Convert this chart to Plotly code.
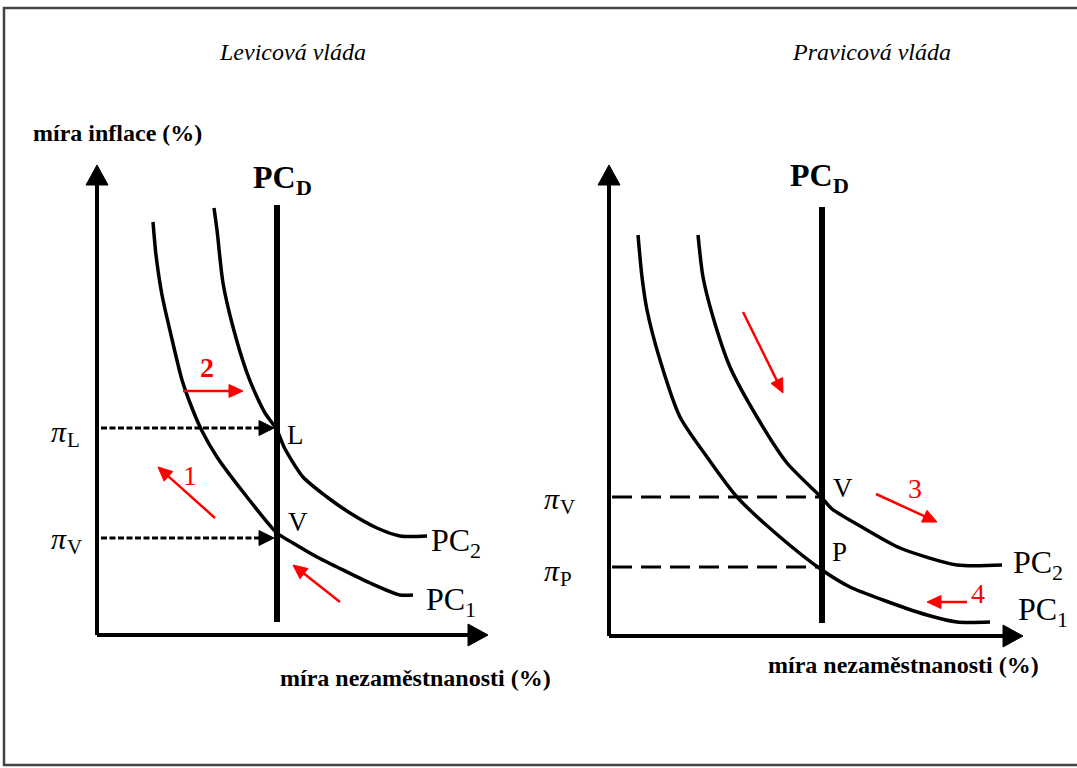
import math
import plotly.graph_objects as go

# ---------------- data (diagram units: unemployment u, inflation pi) ----------------
# Left panel: "Levicová vláda"
left_pc1_u  = [5.6, 5.9, 6.5, 7.4, 8.5, 9.5, 10.5, 12.0, 15.0, 18.0, 19.6, 22.0, 24.0, 27.3, 30.3, 31.6]
left_pc1_pi = [41.3, 38.0, 34.0, 30.0, 25.5, 22.7, 20.4, 17.8, 13.8, 10.2, 9.2, 7.8, 6.8, 5.2, 4.0, 4.0]
left_pc2_u  = [11.7, 12.0, 12.6, 13.6, 15.0, 16.0, 16.8, 18.0, 18.7, 20.6, 23.0, 25.3, 28.0, 30.3, 33.0]
left_pc2_pi = [42.7, 40.5, 35.2, 30.8, 26.2, 23.8, 22.2, 20.5, 18.8, 15.8, 13.8, 12.2, 10.7, 9.9, 9.9]
left_pcd_u = 18.0
left_pcd_pi = [1.3, 43.0]
left_pi_levels = [20.7, 9.7]          # pi_L, pi_V
left_pi_names = ["L", "V"]

# Right panel: "Pravicová vláda"
right_pc1_u  = [2.9, 3.3, 3.8, 5.1, 7.1, 9.8, 12.8, 17.1, 21.3, 24.1, 27.4, 31.8, 34.8, 38.1]
right_pc1_pi = [40.1, 35.9, 32.6, 27.6, 21.9, 17.9, 13.9, 9.9, 6.6, 4.9, 3.6, 2.1, 1.4, 1.4]
right_pc2_u  = [8.9, 9.4, 10.4, 12.1, 14.8, 17.8, 21.3, 22.3, 25.8, 29.1, 34.8, 39.3]
right_pc2_pi = [40.1, 35.9, 31.9, 26.9, 21.9, 17.3, 13.8, 12.7, 10.6, 8.8, 7.1, 7.1]
right_pcd_u = 21.3
right_pcd_pi = [1.3, 42.9]
right_pi_levels = [13.9, 6.9]         # pi_V, pi_P
right_pi_names = ["V", "P"]

# axis extents (arrow tips)
left_axis_tip_u, left_axis_tip_pi = 39.1, 47.0
right_axis_tip_u, right_axis_tip_pi = 41.4, 47.1

# red movement arrows: (tail_u, tail_pi, head_u, head_pi)
left_red_arrows = [(8.6, 24.4, 14.6, 24.4), (11.8, 11.7, 6.1, 16.8), (24.3, 3.3, 19.6, 7.0)]
left_red_labels = [("2", 11.0, 26.8), ("1", 9.3, 16.0)]
right_red_arrows = [(13.4, 32.4, 17.4, 24.3), (26.7, 14.2, 32.8, 11.4), (35.8, 3.4, 31.8, 3.4)]
right_red_labels = [("3", 30.6, 14.8), ("4", 36.9, 4.3)]

# ---------------- layout helpers ----------------
W, H = 1077, 768
PX = 10.0  # pixels per diagram unit (same on both axes)
left_origin = (97, 635)
right_origin = (609, 636)

SERIF = "Liberation Serif"
BLACK = "#000000"
RED = "#ff0000"

fig = go.Figure()


def line(xa, ya, u, p, color, width, dash=None, shape="linear"):
    fig.add_trace(go.Scatter(x=u, y=p, mode="lines", xaxis=xa, yaxis=ya,
                             line=dict(color=color, width=width, dash=dash, shape=shape,
                                       smoothing=0.7 if shape == "spline" else None),
                             hoverinfo="skip", showlegend=False))


def arrow(xa, ya, tu, tp, hu, hp, color, width, length, half, dash=None):
    dx, dy = hu - tu, hp - tp
    n = math.hypot(dx, dy)
    ux, uy = dx / n, dy / n
    bx, by = hu - ux * length, hp - uy * length
    nx, ny = -uy, ux
    line(xa, ya, [tu, bx + ux * 0.3], [tp, by + uy * 0.3], color, width, dash)
    fig.add_trace(go.Scatter(x=[hu, bx + nx * half, bx - nx * half, hu],
                             y=[hp, by + ny * half, by - ny * half, hp],
                             mode="lines", fill="toself", fillcolor=color,
                             line=dict(color=color, width=1), xaxis=xa, yaxis=ya,
                             hoverinfo="skip", showlegend=False))


def add_panel(xa, ya, pc1u, pc1p, pc2u, pc2p, pcdu, pcdp, pis, dotted, tipu, tipp):
    arrow(xa, ya, 0, 0, 0, tipp, BLACK, 4, 2.0, 1.1)
    arrow(xa, ya, 0, 0, tipu, 0, BLACK, 4, 2.0, 1.1)
    line(xa, ya, pc1u, pc1p, BLACK, 3.5, shape="spline")
    line(xa, ya, pc2u, pc2p, BLACK, 3.5, shape="spline")
    line(xa, ya, [pcdu, pcdu], pcdp, BLACK, 6)
    for p in pis:
        if dotted:
            arrow(xa, ya, 0.4, p, pcdu - 0.3, p, BLACK, 3, 1.5, 0.75, dash="6px,2.5px")
        else:
            line(xa, ya, [0.3, pcdu], [p, p], BLACK, 3, dash="20px,9px")


add_panel("x", "y", left_pc1_u, left_pc1_pi, left_pc2_u, left_pc2_pi,
          left_pcd_u, left_pcd_pi, left_pi_levels, True, left_axis_tip_u, left_axis_tip_pi)
add_panel("x2", "y2", right_pc1_u, right_pc1_pi, right_pc2_u, right_pc2_pi,
          right_pcd_u, right_pcd_pi, right_pi_levels, False, right_axis_tip_u, right_axis_tip_pi)

for a in left_red_arrows:
    arrow("x", "y", *a, RED, 2.5, 1.4, 0.65)
for a in right_red_arrows:
    arrow("x2", "y2", *a, RED, 2.5, 1.4, 0.65)

ann = []


def label(xr, yr, x, y, text, size, color=BLACK, xanchor="left", bold=False, italic=False, yshift=0):
    t = text
    if bold:
        t = "<b>" + t + "</b>"
    if italic:
        t = "<i>" + t + "</i>"
    ann.append(dict(xref=xr, yref=yr, x=x, y=y, text=t, showarrow=False,
                    xanchor=xanchor, yanchor="middle", yshift=yshift,
                    borderpad=0, borderwidth=0,
                    font=dict(family=SERIF, size=size, color=color)))


def label_sub(xr, yr, x_join, y, main, sub, size, bold=False, italic_main=False):
    # main text ends at x_join, subscript starts there
    label(xr, yr, x_join, y, main, size, xanchor="right", bold=bold, italic=italic_main)
    label(xr, yr, x_join, y, sub, round(size * 0.7), xanchor="left", bold=bold,
          yshift=-round(size * 0.3))


for t, u, p in left_red_labels:
    label("x", "y", u, p, t, 28, RED, "center", bold=(t == "2"))
for t, u, p in right_red_labels:
    label("x2", "y2", u, p, t, 28, RED, "center")

# left panel text
label("x", "y", 19.5, 58.3, "Levicová vláda", 24, xanchor="center", italic=True)
label("x", "y", -6.4, 50.2, "míra inflace (%)", 24, bold=True)
label("x", "y", 18.3, -4.3, "míra nezaměstnanosti (%)", 24, bold=True)
label_sub("x", "y", 15.6 + 4.3, 45.8, "PC", "D", 32, bold=True)
label_sub("x", "y", 33.4 + 3.9, 9.5, "PC", "2", 32)
label_sub("x", "y", 32.9 + 3.9, 3.6, "PC", "1", 32)
label_sub("x", "y", -4.6 + 1.6, 20.4, "π", "L", 30, italic_main=True)
label_sub("x", "y", -4.6 + 1.6, 9.7, "π", "V", 30, italic_main=True)
label("x", "y", 19.0, 20.0, left_pi_names[0], 27)
label("x", "y", 19.1, 11.3, left_pi_names[1], 27)

# right panel text
label("x2", "y2", 26.2, 58.4, "Pravicová vláda", 24, xanchor="center", italic=True)
label("x2", "y2", -7.7, 50.3, "míra inflace (%)", 24, bold=True)
label("x2", "y2", 15.9, -2.9, "míra nezaměstnanosti (%)", 24, bold=True)
label_sub("x2", "y2", 18.1 + 4.3, 46.1, "PC", "D", 32, bold=True)
label_sub("x2", "y2", 40.4 + 3.9, 7.4, "PC", "2", 32)
label_sub("x2", "y2", 40.9 + 3.9, 2.7, "PC", "1", 32)
label_sub("x2", "y2", -6.5 + 1.6, 13.8, "π", "V", 30, italic_main=True)
label_sub("x2", "y2", -6.5 + 1.6, 6.6, "π", "P", 30, italic_main=True)
label("x2", "y2", 22.4, 14.8, right_pi_names[0], 27)
label("x2", "y2", 22.3, 8.4, right_pi_names[1], 27)


def rng(origin, lo_px, hi_px, flip=False):
    if flip:
        return [(origin - lo_px) / PX, (origin - hi_px) / PX]
    return [(lo_px - origin) / PX, (hi_px - origin) / PX]


ax_common = dict(visible=False, showgrid=False, zeroline=False, fixedrange=True)
fig.update_layout(
    width=W, height=H, margin=dict(l=0, r=0, t=0, b=0),
    paper_bgcolor="white", plot_bgcolor="white", showlegend=False,
    xaxis=dict(domain=[0, 0.5], range=rng(left_origin[0], 0, W / 2), **ax_common),
    yaxis=dict(domain=[0, 1], range=rng(left_origin[1], H, 0, flip=True), **ax_common),
    xaxis2=dict(domain=[0.5, 1], range=rng(right_origin[0], W / 2, W), anchor="y2", **ax_common),
    yaxis2=dict(domain=[0, 1], range=rng(right_origin[1], H, 0, flip=True), anchor="x2", **ax_common),
    annotations=ann,
    shapes=[dict(type="rect", xref="paper", yref="paper", x0=4 / W, x1=1.02,
                 y0=1 - 765 / H, y1=1 - 8 / H, line=dict(color="#444444", width=2.5))],
)

fig.write_html("out.html", config={"displayModeBar": False},
               post_script="document.body.style.margin='0px';")
